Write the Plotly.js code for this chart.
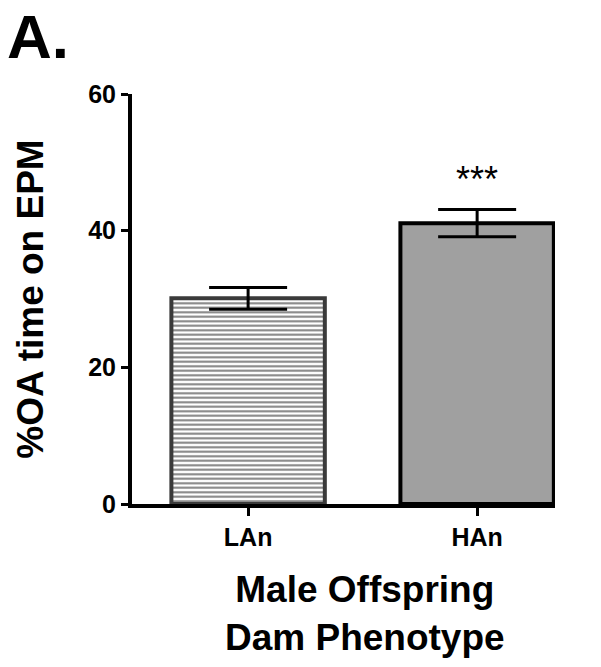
<!DOCTYPE html>
<html>
<head>
<meta charset="utf-8">
<script src="https://cdn.plot.ly/plotly-3.0.1.min.js"></script>
<style>html,body{margin:0;padding:0;background:#fff;}#chart{width:601px;height:667px;}</style>
</head>
<body>
<div id="chart"></div>
<script>
const categories = ['LAn', 'HAn'];
const means = [30.1, 41.1];
const sem = [1.6, 2.0];
const yTicks = [0, 20, 40, 60];
const significance = '***';
const panelLabel = 'A.';
const yTitle = '%OA time on EPM';
const xTitle = 'Male Offspring<br>Dam Phenotype';

const font = 'Liberation Sans, Arial, sans-serif';

function barTrace(i, marker) {
  return {
    type: 'bar',
    x: [categories[i]],
    y: [means[i]],
    width: 0.67,
    marker: marker,
    error_y: { type: 'data', array: [sem[i]], visible: true, color: '#000', thickness: 3, width: 39 },
    hoverinfo: 'none'
  };
}

const traces = [
  barTrace(0, {
    color: '#ffffff',
    line: { color: '#3a3a3a', width: 4 },
    pattern: { shape: '-', fillmode: 'replace', fgcolor: '#808080', bgcolor: '#ffffff', size: 4.5, solidity: 0.45 }
  }),
  barTrace(1, {
    color: '#a0a0a0',
    line: { color: '#000000', width: 4 }
  })
];

const W = 601, H = 667, L = 132, R = 46, T = 94, B = 163;
const pw = W - L - R, ph = H - T - B;

const layout = {
  width: W, height: H,
  margin: { l: L, r: R, t: T, b: B },
  paper_bgcolor: '#fff', plot_bgcolor: '#fff',
  showlegend: false,
  barmode: 'overlay',
  font: { family: font, color: '#000' },
  title: {
    text: '<b>' + panelLabel + '</b>',
    font: { family: font, size: 62, color: '#000' },
    xref: 'container', yref: 'container',
    x: 7 / W, xanchor: 'left',
    y: 1, yanchor: 'top',
    pad: { t: 15, l: 0, r: 0, b: 0 }
  },
  xaxis: {
    type: 'category',
    categoryarray: categories,
    range: [-0.507, 1.34],
    showline: true, linewidth: 4, linecolor: '#000',
    ticks: 'outside', ticklen: 8, tickwidth: 3, tickcolor: '#000',
    showgrid: false, zeroline: false,
    tickfont: { family: font, size: 25, color: '#000', weight: 'bold' }
  },
  yaxis: {
    range: [0, 60],
    tickvals: yTicks,
    showline: true, linewidth: 4, linecolor: '#000',
    ticks: 'outside', ticklen: 7, tickwidth: 3, tickcolor: '#000',
    showgrid: false, zeroline: false,
    tickfont: { family: font, size: 25, color: '#000', weight: 'bold' },
    title: { text: '<b>' + yTitle + '</b>', font: { family: font, size: 37, color: '#000' }, standoff: 34 }
  },
  annotations: [
    { x: categories[1], y: means[1] + sem[1], yshift: 30, xref: 'x', yref: 'y', text: significance, showarrow: false, font: { family: font, size: 36, color: '#000' } },
    { x: (365 - L) / pw, y: -(567 - T - ph) / ph, xref: 'paper', yref: 'paper', xanchor: 'center', yanchor: 'top', text: '<b>' + xTitle + '</b>', showarrow: false, font: { family: font, size: 37, color: '#000' } }
  ]
};

Plotly.newPlot('chart', traces, layout, { displayModeBar: false, staticPlot: true });
</script>
</body>
</html>
